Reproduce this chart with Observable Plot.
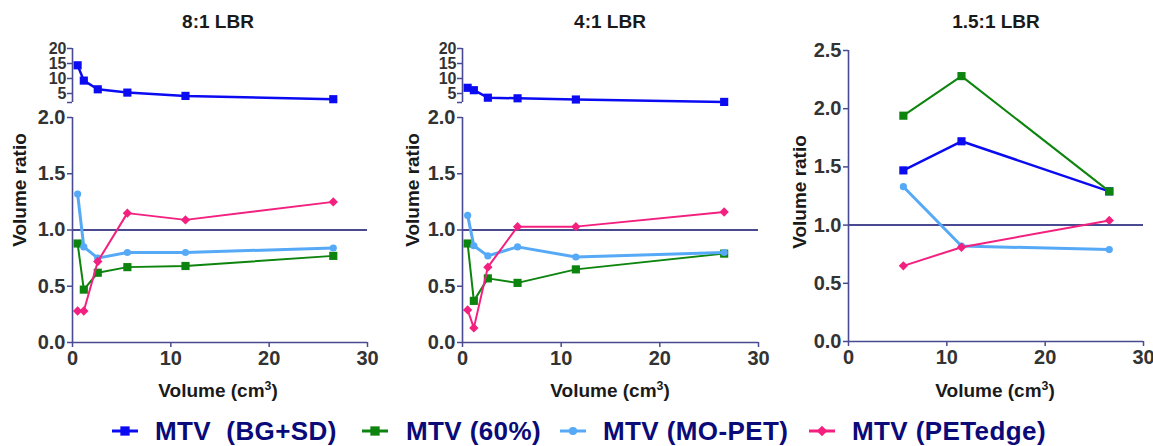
<!DOCTYPE html>
<html><head><meta charset="utf-8">
<script src="https://cdn.jsdelivr.net/npm/d3@7"></script>
<script src="https://cdn.jsdelivr.net/npm/@observablehq/plot@0.6"></script>
<style>
body{margin:0;background:#fff;}
#chart{position:relative;width:1153px;height:446px;overflow:hidden;font-family:"Liberation Sans",Arial,sans-serif;font-weight:bold;}
#chart > *{position:absolute;}
.t{white-space:nowrap;line-height:1;}
.t sup{font-size:0.65em;vertical-align:baseline;position:relative;top:-0.55em;}
</style></head><body><div id="chart"></div>
<script>
// ---- data ----
const volumes = [0.52, 1.15, 2.57, 5.58, 11.49, 26.52];
const volumes15 = [5.58, 11.49, 26.52];

const bgsd8 = [14.4, 9.3, 6.4, 5.3, 4.2, 3.1];
const p60_8 = [0.88, 0.47, 0.62, 0.67, 0.68, 0.77];
const mopet8 = [1.32, 0.85, 0.75, 0.80, 0.80, 0.84];
const petedge8 = [0.28, 0.28, 0.72, 1.15, 1.09, 1.25];

const bgsd4 = [6.9, 6.1, 3.6, 3.4, 3.0, 2.2];
const p60_4 = [0.88, 0.37, 0.57, 0.53, 0.65, 0.79];
const mopet4 = [1.13, 0.86, 0.77, 0.85, 0.76, 0.80];
const petedge4 = [0.29, 0.13, 0.67, 1.03, 1.03, 1.16];

const bgsd15 = [1.47, 1.72, 1.29];
const p60_15 = [1.94, 2.28, 1.29];
const mopet15 = [1.33, 0.82, 0.79];
const petedge15 = [0.65, 0.81, 1.04];

const seriesNames = ["MTV\u00a0\u00a0(BG+SD)", "MTV (60%)", "MTV (MO-PET)", "MTV (PETedge)"];
const panelTitles = ["8:1 LBR", "4:1 LBR", "1.5:1 LBR"];
const xTicks = [0, 10, 20, 30];
const yTicksLow = [0, 0.5, 1, 1.5, 2];
const yTicksHigh = [2, 5, 10, 15, 20];
const yTicks15 = [0, 0.5, 1, 1.5, 2, 2.5];
const xLabel = "Volume (cm<sup>3</sup>)";
const yLabel = "Volume ratio";

// ---- styles ----
const seriesColors = ["#0b0bf2", "#0d840d", "#56a9f6", "#f3207f"];
const seriesSymbols = ["square", "square", "circle", "diamond2"];
const seriesR = [4.6, 4.6, 3.6, 4.2];
const seriesW = [2.5, 2, 3, 2];
const axisColor = "#4a4a92";
const tickText = "#333";
const font = "'Liberation Sans', Arial, sans-serif";

const chart = document.getElementById("chart");
const rows = (xs, ys) => xs.map((x, i) => ({x, y: ys[i]}));

function seriesMarks(xs, ys, k) {
  const data = rows(xs, ys);
  return [
    Plot.line(data, {x: "x", y: "y", stroke: seriesColors[k], strokeWidth: seriesW[k]}),
    Plot.dot(data, {x: "x", y: "y", symbol: seriesSymbols[k], fill: seriesColors[k], r: seriesR[k]})
  ];
}

function place(el, left, top) {
  el.style.position = "absolute";
  el.style.left = left + "px";
  el.style.top = top + "px";
  chart.appendChild(el);
}

const baseStyle = {background: "transparent", overflow: "visible", fontFamily: font, fontWeight: "bold"};

function lowerPlot({width, height, ml, mr, mt, mb, ydom, yticks, marks}) {
  return Plot.plot({
    width, height, marginLeft: ml, marginRight: mr, marginTop: mt, marginBottom: mb,
    style: baseStyle,
    x: {domain: [0, 30]}, y: {domain: ydom},
    marks: [
      Plot.ruleY([1], {stroke: axisColor, strokeWidth: 2}),
      ...marks,
      Plot.ruleX([0], {stroke: axisColor, strokeWidth: 1.6}),
      Plot.ruleY([ydom[0]], {stroke: axisColor, strokeWidth: 1.6}),
      Plot.axisY(yticks, {tickSize: 5, tickPadding: 2, stroke: axisColor, strokeWidth: 1.5, fill: tickText, fontSize: 20, tickFormat: d3.format(".1f"), label: null}),
      Plot.axisX(xTicks, {tickSize: 5, tickPadding: 3, stroke: axisColor, strokeWidth: 1.5, fill: tickText, fontSize: 20, label: null})
    ]
  });
}

function upperPlot({width, ml, mr, marks}) {
  return Plot.plot({
    width, height: 70, marginLeft: ml, marginRight: mr, marginTop: 8, marginBottom: 8,
    style: baseStyle,
    x: {domain: [0, 30]}, y: {domain: [2, 20]},
    marks: [
      ...marks,
      Plot.ruleX([0], {stroke: axisColor, strokeWidth: 1.6}),
      Plot.axisY(yTicksHigh, {tickSize: 5, tickPadding: 1, stroke: axisColor, strokeWidth: 1.5, fill: tickText, fontSize: 16, tickFormat: d => d === 2 ? "" : String(d), label: null}),
      Plot.axisX([], {label: null})
    ]
  });
}

// Panel 1 (8:1)
place(upperPlot({width: 380, ml: 72, mr: 13, marks: seriesMarks(volumes, bgsd8, 0)}), 0, 40);
place(lowerPlot({width: 380, height: 300, ml: 72, mr: 13, mt: 7, mb: 68, ydom: [0, 2], yticks: yTicksLow,
  marks: [...seriesMarks(volumes, p60_8, 1), ...seriesMarks(volumes, mopet8, 2), ...seriesMarks(volumes, petedge8, 3)]}), 0, 110);

// Panel 2 (4:1)
place(upperPlot({width: 400, ml: 82, mr: 22, marks: seriesMarks(volumes, bgsd4, 0)}), 380, 40);
place(lowerPlot({width: 400, height: 300, ml: 82, mr: 22, mt: 7, mb: 68, ydom: [0, 2], yticks: yTicksLow,
  marks: [...seriesMarks(volumes, p60_4, 1), ...seriesMarks(volumes, mopet4, 2), ...seriesMarks(volumes, petedge4, 3)]}), 380, 110);

// Panel 3 (1.5:1)
place(lowerPlot({width: 373, height: 370, ml: 68, mr: 10, mt: 10, mb: 69, ydom: [0, 2.5], yticks: yTicks15,
  marks: [...seriesMarks(volumes15, bgsd15, 0), ...seriesMarks(volumes15, p60_15, 1), ...seriesMarks(volumes15, mopet15, 2), ...seriesMarks(volumes15, petedge15, 3)]}), 780, 40);

// ---- texts ----
function text(html, cx, top, size, color, rotate) {
  const d = document.createElement("div");
  d.className = "t";
  d.innerHTML = html;
  d.style.fontSize = size + "px";
  d.style.color = color;
  place(d, cx, top);
  d.style.transform = rotate ? "translate(-50%,-50%) rotate(-90deg)" : "translateX(-50%)";
  return d;
}
const titleX = [218, 610, 996];
panelTitles.forEach((t, i) => text(t, titleX[i], 12, 19, "#1a1a1a"));
[218, 610, 995].forEach(cx => text(xLabel, cx, 381, 19, "#1a1a1a"));
[[19, 190], [412, 190], [799, 192]].forEach(([cx, cy]) => text(yLabel, cx, cy, 19, "#1a1a1a", true));

// ---- legend ----
const swatchX = [125, 375, 573, 822];
const legendX = [155, 406, 603, 852];
seriesNames.forEach((name, k) => {
  const svg = d3.create("svg").attr("width", 30).attr("height", 16);
  svg.append("line").attr("x1", 2).attr("x2", 28).attr("y1", 8).attr("y2", 8)
    .attr("stroke", seriesColors[k]).attr("stroke-width", 3);
  svg.append("path").attr("transform", "translate(15,8)")
    .attr("d", d3.symbol(k === 2 ? d3.symbolCircle : k === 3 ? d3.symbolDiamond2 : d3.symbolSquare, Math.PI * seriesR[k] ** 2 * 1.3)())
    .attr("fill", seriesColors[k]);
  place(svg.node(), swatchX[k] - 15, 423);
  const d = document.createElement("div");
  d.className = "t";
  d.textContent = name;
  d.style.fontSize = "26px";
  d.style.color = "#0a0a78";
  d.style.letterSpacing = "0.4px";
  place(d, legendX[k], 418);
});
</script></body></html>
